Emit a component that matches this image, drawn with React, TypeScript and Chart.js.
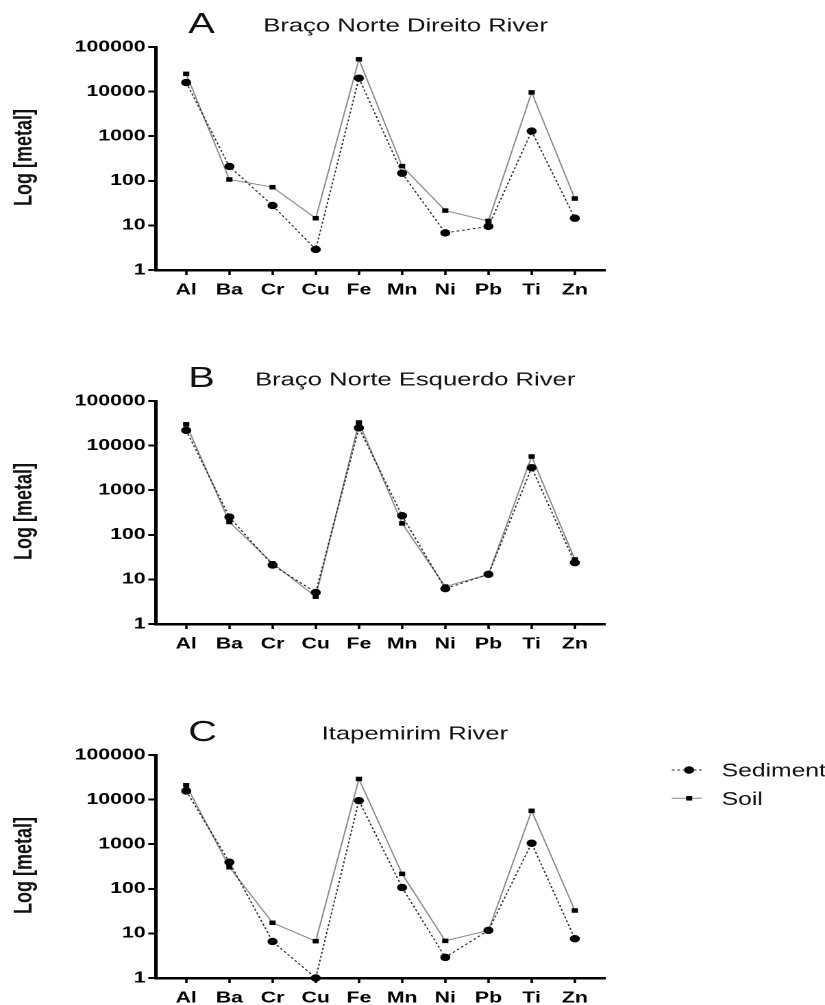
import React, { useEffect, useRef } from "react";
import { Chart, registerables } from "chart.js";

Chart.register(...registerables);

// ---------- data ----------
const categories = ["Al", "Ba", "Cr", "Cu", "Fe", "Mn", "Ni", "Pb", "Ti", "Zn"];
const yTickValues = [1, 10, 100, 1000, 10000, 100000];

const sedimentA = [16000, 210, 28, 2.9, 20000, 148, 6.8, 9.5, 1300, 14.5];
const soilA = [25000, 107, 72, 14.5, 53000, 213, 21.5, 12.6, 9600, 40];

const sedimentB = [22000, 250, 21, 5.1, 25000, 268, 6.2, 13, 3200, 23.7];
const soilB = [30000, 194, 23, 4.1, 33000, 180, 6.9, 13, 5700, 28];

const sedimentC = [15600, 395, 6.6, 1.0, 9500, 107, 2.9, 11.7, 1050, 7.6];
const soilC = [21000, 305, 17.3, 6.7, 29000, 216, 6.8, 11.7, 5600, 32.6];

const panelLetters = ["A", "B", "C"];
const panelTitles = ["Braço Norte Direito River", "Braço Norte Esquerdo River", "Itapemirim River"];
const seriesNames = ["Sediment", "Soil"];
const yAxisTitle = "Log [metal]";

// ---------- layout ----------
const PANEL_W = 602;
const PANEL_H = 297;
const SX = 825 / PANEL_W;
const panelTops = [0, 354, 708];
const titleXs = [192.1, 186.1, 234.7];
const FONT = '"Liberation Sans", Arial, Helvetica, sans-serif';

type PanelProps = { index: number; sediment: number[]; soil: number[]; showLegend: boolean };

function Panel({ index, sediment, soil, showLegend }: PanelProps) {
  const ref = useRef<HTMLCanvasElement | null>(null);

  useEffect(() => {
    const titlePlugin = {
      id: "panelTitle" + index,
      afterDraw(chart: any) {
        const ctx = chart.ctx as CanvasRenderingContext2D;
        ctx.save();
        ctx.fillStyle = "#111";
        ctx.textAlign = "left";
        ctx.textBaseline = "alphabetic";
        ctx.font = `29px ${FONT}`;
        ctx.fillText(panelLetters[index], 137.4, 33);
        ctx.font = `18.7px ${FONT}`;
        ctx.fillText(panelTitles[index], titleXs[index], 31.5);

        // y-axis title
        ctx.save();
        ctx.translate(23.1, 157.5);
        ctx.rotate(-Math.PI / 2);
        ctx.textAlign = "center";
        ctx.font = `bold 18px ${FONT}`;
        ctx.fillText(yAxisTitle, 0, 0);
        ctx.restore();

        if (showLegend) {
          ctx.lineWidth = 1;
          ctx.strokeStyle = "#222";
          ctx.setLineDash([2, 2]);
          ctx.beginPath();
          ctx.moveTo(490.2, 62);
          ctx.lineTo(512, 62);
          ctx.stroke();
          ctx.setLineDash([]);
          ctx.fillStyle = "#000";
          ctx.beginPath();
          ctx.arc(502.8, 62, 3.7, 0, Math.PI * 2);
          ctx.fill();
          ctx.strokeStyle = "#888";
          ctx.beginPath();
          ctx.moveTo(490.2, 90.3);
          ctx.lineTo(512, 90.3);
          ctx.stroke();
          ctx.fillRect(502.9 - 2.25, 90.3 - 2.25, 4.5, 4.5);
          ctx.fillStyle = "#111";
          ctx.font = `18px ${FONT}`;
          ctx.fillText(seriesNames[0], 526.6, 68.7);
          ctx.fillText(seriesNames[1], 526.6, 97);
        }
        ctx.restore();
      },
    };

    const tickFont = { family: FONT, size: 15.5, weight: "bold" as const };

    const chart = new Chart(ref.current as HTMLCanvasElement, {
      type: "line",
      data: {
        datasets: [
          {
            label: seriesNames[0],
            data: sediment.map((v, i) => ({ x: i, y: v })),
            borderColor: "#222",
            borderWidth: 1,
            borderDash: [2, 2],
            pointStyle: "circle",
            pointRadius: 3.7,
            pointBackgroundColor: "#000",
            pointBorderColor: "#000",
            pointBorderWidth: 0,
            clip: false,
            tension: 0,
          },
          {
            label: seriesNames[1],
            data: soil.map((v, i) => ({ x: i, y: v })),
            borderColor: "#888",
            borderWidth: 1,
            pointStyle: "rect",
            pointRadius: 3.2,
            pointBackgroundColor: "#000",
            pointBorderColor: "#000",
            pointBorderWidth: 0,
            clip: false,
            tension: 0,
          },
        ],
      },
      options: {
        animation: false,
        responsive: true,
        maintainAspectRatio: false,
        devicePixelRatio: 2,
        layout: { padding: { top: 47, left: 0, right: 160.5, bottom: 0 } },
        plugins: { legend: { display: false }, tooltip: { enabled: false }, title: { display: false } },
        scales: {
          x: {
            type: "linear",
            min: -0.7,
            max: 9.7,
            afterBuildTicks: (s: any) => {
              s.ticks = categories.map((_, i) => ({ value: i }));
            },
            afterFit: (s: any) => {
              s.height = 27;
            },
            ticks: {
              callback: (v: any) => categories[Math.round(Number(v))] ?? "",
              font: tickFont,
              color: "#000",
              padding: 6,
              autoSkip: false,
              maxRotation: 0,
              minRotation: 0,
            },
            grid: { drawOnChartArea: false, drawTicks: true, tickLength: 5, tickWidth: 1.8, tickColor: "#000", color: "#000" },
            border: { display: true, color: "#000", width: 2.5 },
          },
          y: {
            type: "logarithmic",
            min: 1,
            max: 100000,
            afterBuildTicks: (s: any) => {
              s.ticks = yTickValues.map((v) => ({ value: v }));
            },
            afterFit: (s: any) => {
              s.width = 113.8;
            },
            ticks: {
              callback: (v: any) => String(v),
              font: tickFont,
              color: "#000",
              padding: 2,
              autoSkip: false,
            },
            grid: { drawOnChartArea: false, drawTicks: true, tickLength: 5.6, tickWidth: 2, tickColor: "#000", color: "#000" },
            border: { display: true, color: "#000", width: 2.5 },
          },
        },
      } as any,
      plugins: [titlePlugin],
    });
    return () => chart.destroy();
  }, [index, sediment, soil, showLegend]);

  return (
    <div
      style={{
        position: "absolute",
        left: 0,
        top: panelTops[index],
        width: PANEL_W,
        height: PANEL_H,
        transform: `scaleX(${SX})`,
        transformOrigin: "0 0",
      }}
    >
      <canvas ref={ref} style={{ display: "block" }} />
    </div>
  );
}

export default function App() {
  const sets = [
    [sedimentA, soilA],
    [sedimentB, soilB],
    [sedimentC, soilC],
  ];
  return (
    <div
      style={{
        position: "absolute",
        left: 0,
        top: 0,
        width: 825,
        height: 1005,
        overflow: "hidden",
        background: "#fff",
      }}
    >
      {sets.map(([sed, soil], i) => (
        <Panel key={i} index={i} sediment={sed} soil={soil} showLegend={i === 2} />
      ))}
    </div>
  );
}
